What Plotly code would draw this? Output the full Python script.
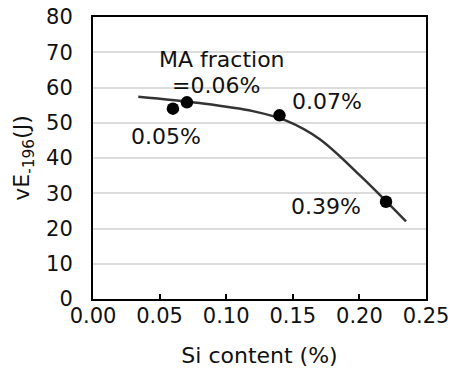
import plotly.graph_objects as go

# measured points
si_content = [0.060, 0.0705, 0.140, 0.220]
energy = [54.0, 55.8, 52.1, 27.6]

# trend curve
curve_x = [0.034, 0.080, 0.120, 0.145, 0.170, 0.200, 0.235]
curve_y = [57.4, 55.6, 53.3, 50.6, 45.4, 35.2, 22.0]

# labels
label_text = ["MA fraction", "=0.06%", "0.05%", "0.07%", "0.39%"]
label_x = [0.097, 0.092, 0.0546, 0.176, 0.175]
label_y = [68.0, 60.7, 46.0, 56.0, 26.2]

x_ticks = [0.0, 0.05, 0.10, 0.15, 0.20, 0.25]
y_ticks = [0, 10, 20, 30, 40, 50, 60, 70, 80]

FONT = "DejaVu Sans"
FS = 22
TFS = 21
fig = go.Figure()
fig.add_trace(go.Scatter(x=curve_x, y=curve_y, mode="lines",
                         line=dict(color="#333333", width=2.5, shape="spline", smoothing=1.0),
                         hoverinfo="skip", showlegend=False))
fig.add_trace(go.Scatter(x=si_content, y=energy, mode="markers",
                         marker=dict(color="black", size=12.5), showlegend=False))

for t, x, y in zip(label_text, label_x, label_y):
    fig.add_annotation(x=x, y=y, text=t, showarrow=False,
                       font=dict(family=FONT, size=FS, color="#111111"),
                       xanchor="center", yanchor="middle")

fig.update_layout(
    width=450, height=369,
    margin=dict(l=93, r=24, t=17, b=70, autoexpand=False),
    paper_bgcolor="white", plot_bgcolor="white",
    font=dict(family=FONT, size=TFS, color="#111111"),
    showlegend=False,
)
fig.update_xaxes(range=[0, 0.25], tickvals=x_ticks, ticktext=[f"{v:.2f}" for v in x_ticks],
                 showgrid=False, zeroline=False, showline=True, linecolor="black", linewidth=2,
                 mirror=True, ticks="inside", ticklen=5, tickcolor="black", tickwidth=1.5,
                 ticklabelstandoff=-3, ticklabeloverflow="allow", tickfont=dict(size=TFS),
                 automargin=False,
                 title=dict(text="Si content (%)", font=dict(size=FS), standoff=20))
fig.update_yaxes(range=[0, 80], tickvals=y_ticks,
                 showgrid=True, gridcolor="#dcdcdc", gridwidth=1.5, zeroline=False,
                 showline=True, linecolor="black", linewidth=2, mirror=True,
                 ticks="", ticklabelstandoff=14, tickfont=dict(size=TFS),
                 automargin=False,
                 title=dict(text="vE<sub>-196</sub>(J)", font=dict(size=FS), standoff=10))

fig.write_html("out.html")
